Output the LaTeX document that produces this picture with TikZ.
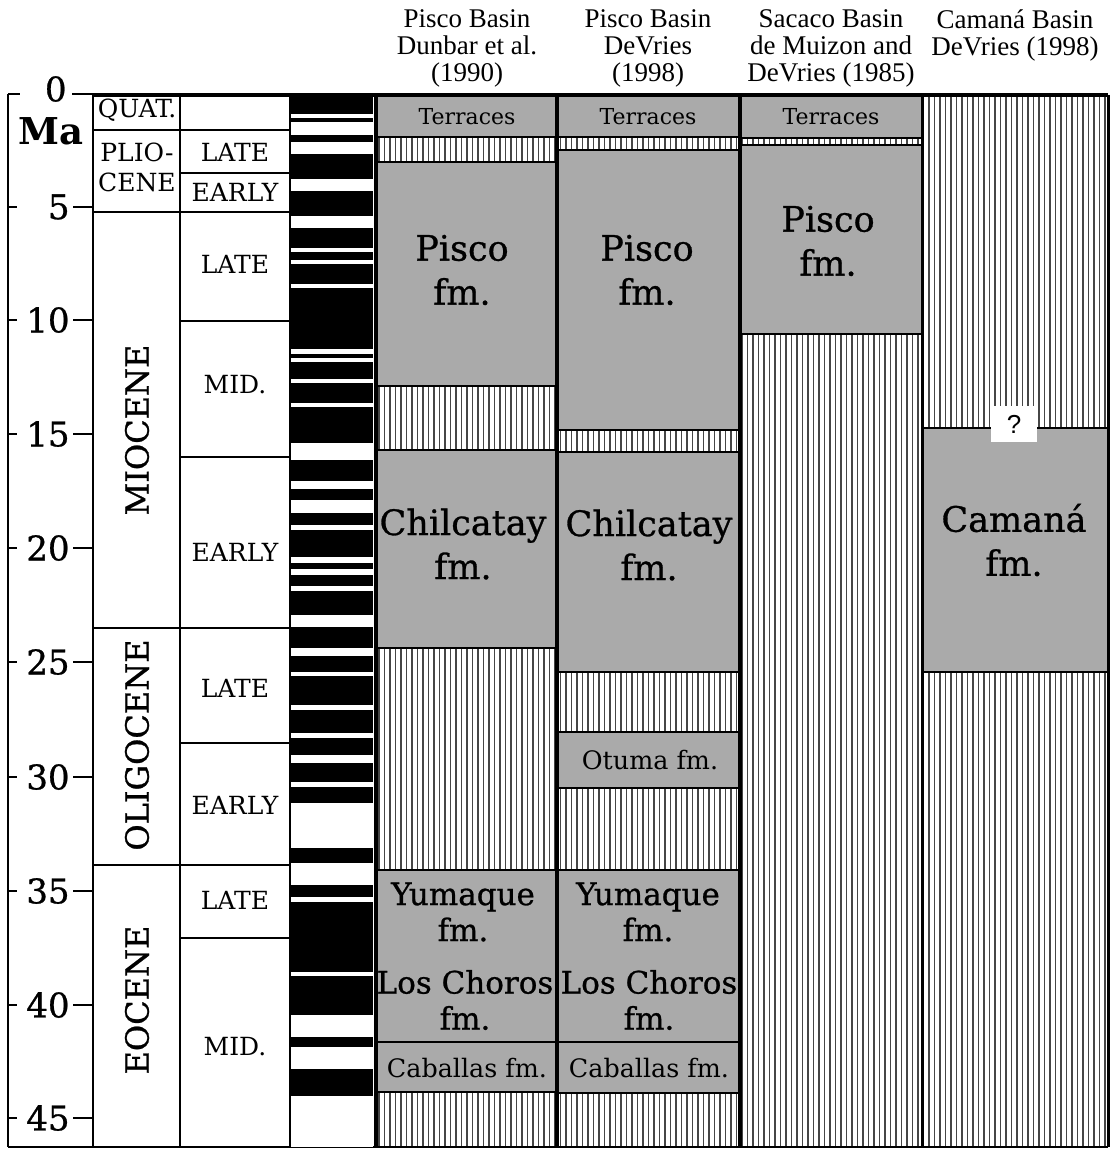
\documentclass[tikz,border=0pt]{standalone}
\usepackage{fontspec}
\setmainfont{Liberation Serif}
\newfontfamily\slab{DejaVu Serif}
\newfontfamily\slabh[FakeBold=0.8]{DejaVu Serif}
\newfontfamily\hdr{Liberation Serif}
\newfontfamily\qsans{Liberation Sans}
\definecolor{fmgray}{RGB}{170,170,170}
\definecolor{hatchc}{RGB}{70,70,70}
\begin{document}
\begin{tikzpicture}[x=0.5pt,y=-0.5pt,
  hdrtext/.style={font=\hdr\fontsize{13.5}{13.5}\selectfont,align=center,inner sep=0pt},
  fmbig/.style={font=\slabh\fontsize{17.5}{22}\selectfont,align=center,inner sep=0pt},
  fmmid/.style={font=\slabh\fontsize{15.5}{18}\selectfont,align=center,inner sep=0pt},
  fmsmall/.style={font=\slab\fontsize{12.7}{14}\selectfont,inner sep=0pt},
  terr/.style={font=\slab\fontsize{11}{12}\selectfont,inner sep=0pt},
  eplabel/.style={font=\slab\fontsize{12.5}{15}\selectfont,align=center,inner sep=0pt},
  eprot/.style={font=\slabh\fontsize{16}{16}\selectfont,rotate=90,inner sep=0pt},
  axnum/.style={font=\slabh\fontsize{17}{17}\selectfont,inner sep=0pt,anchor=east},
  gridl/.style={line width=0.8pt,black},
  fmline/.style={line width=1pt,black},
  hatch/.style={line width=0.6pt,hatchc},
  colsep/.style={line width=2pt,black}
]
\useasboundingbox (0,0) rectangle (1112,1150);
\fill[white] (0,0) rectangle (1112,1150);

% ---------- headers ----------
\node[hdrtext] (h1) at (467,48) {Pisco Basin\\Dunbar et al.\\(1990)};
\node[hdrtext] (h2) at (648,48) {Pisco Basin\\DeVries\\(1998)};
\node[hdrtext] (h3) at (831,48) {Sacaco Basin\\de Muizon and\\DeVries (1985)};
\node[hdrtext] (h4) at (1015,35) {Camaná Basin\\DeVries (1998)};

% ---------- hatching background of formation columns ----------
\begin{scope}
\clip (377,95) rectangle (1108,1147);
\foreach \x in {379,384.5,...,1108} \draw[hatch] (\x,95) -- (\x,1147);
\end{scope}

% ---------- formation blocks ----------
% column 1
\draw[fmline,fill=fmgray] (377,95) rectangle (557,137);
\draw[fmline,fill=fmgray] (377,162) rectangle (557,386);
\draw[fmline,fill=fmgray] (377,450) rectangle (557,648);
\draw[fmline,fill=fmgray] (377,870) rectangle (557,1042);
\draw[fmline,fill=fmgray] (377,1042) rectangle (557,1092);
% column 2
\draw[fmline,fill=fmgray] (557,95) rectangle (740,137);
\draw[fmline,fill=fmgray] (557,150) rectangle (740,430);
\draw[fmline,fill=fmgray] (557,452) rectangle (740,672);
\draw[fmline,fill=fmgray] (557,732) rectangle (740,788);
\draw[fmline,fill=fmgray] (557,870) rectangle (740,1042);
\draw[fmline,fill=fmgray] (557,1042) rectangle (740,1093);
% column 3
\draw[fmline,fill=fmgray] (740,95) rectangle (922,138);
\draw[fmline,fill=fmgray] (740,145) rectangle (922,334);
% column 4
\draw[fmline,fill=fmgray] (922,428) rectangle (1108,672);

% ---------- formation labels ----------
\node[terr] (t1) at (467,117) {Terraces};
\node[terr] (t2) at (648,117) {Terraces};
\node[terr] (t3) at (831,117) {Terraces};
\node[fmbig] (p1) at (462,270) {Pisco\\fm.};
\node[fmbig] (p2) at (647,270) {Pisco\\fm.};
\node[fmbig] (p3) at (828,241) {Pisco\\fm.};
\node[fmbig] (c1) at (463,544) {Chilcatay\\fm.};
\node[fmbig] (c2) at (649,545) {Chilcatay\\fm.};
\node[fmbig] (cam) at (1014,540) {Camaná\\fm.};
\node[fmsmall] (ot) at (650,760) {Otuma fm.};
\node[fmmid] (y1) at (463,912) {Yumaque\\fm.};
\node[fmmid] (y2) at (648,912) {Yumaque\\fm.};
\node[fmmid] (lc1) at (465,1000) {Los Choros\\fm.};
\node[fmmid] (lc2) at (649,1000) {Los Choros\\fm.};
\node[fmsmall] (cb1) at (467,1068) {Caballas fm.};
\node[fmsmall] (cb2) at (649,1068) {Caballas fm.};
\node[fill=white,minimum width=23pt,minimum height=18pt,inner sep=0pt,
      font=\qsans\fontsize{13}{13}\selectfont] (q) at (1014,424) {?};

% ---------- column separators ----------
\draw[colsep] (376,95) -- (376,1147);
\draw[colsep] (557,95) -- (557,1147);
\draw[colsep] (740,95) -- (740,1147);
\draw[line width=1.5pt] (922,95) -- (922,1147);
\draw[line width=1.5pt] (1108,95) -- (1108,1147);
\draw[line width=1.6pt] (93,95) -- (1108,95);
\draw[gridl] (8,1147) -- (1108,1147);

% ---------- polarity column ----------
\fill[white] (291,95) rectangle (373,1147);
\foreach \a/\b in {95/114,118/122,135/142,154/179,191/216,228/248,252/260,264/284,
  288/349,354/358,362/379,383/403,407/443,460/481,489/500,513/525,530/557,563/569,
  575/586,591/615,627/648,656/672,676/705,710/733,738/755,763/782,787/803,848/863,
  885/897,902/972,976/1015,1037/1047,1069/1096}
  \fill[black] (291,\a) rectangle (373,\b);
\draw[gridl] (290,95) -- (290,1147);

% ---------- time scale grid ----------
\draw[gridl] (93,95) -- (93,1147);
\draw[gridl] (180,95) -- (180,1147);
\foreach \y in {130,212,628,865} \draw[gridl] (93,\y) -- (290,\y);
\foreach \y in {173,321,457,743,938} \draw[gridl] (180,\y) -- (290,\y);

% epochs
\node[eplabel] (quat) at (137,110) {QUAT.};
\node[eplabel] (plio) at (137,167) {PLIO-\\CENE};
\node[eprot] (mio) at (137,430) {MIOCENE};
\node[eprot] (oli) at (137,745) {OLIGOCENE};
\node[eprot] (eoc) at (137,1000) {EOCENE};
% sub-epochs
\node[eplabel] (s1) at (235,152) {LATE};
\node[eplabel] (s2) at (235,192) {EARLY};
\node[eplabel] (s3) at (235,264) {LATE};
\node[eplabel] (s4) at (235,385) {MID.};
\node[eplabel] (s5) at (235,552) {EARLY};
\node[eplabel] (s6) at (235,688) {LATE};
\node[eplabel] (s7) at (235,805) {EARLY};
\node[eplabel] (s8) at (235,900) {LATE};
\node[eplabel] (s9) at (235,1047) {MID.};

% ---------- age axis ----------
\draw[gridl] (8,94) -- (8,1147);
\draw[gridl] (8,94) -- (20,94);
\draw[gridl] (72,94) -- (93,94);
\node[axnum] (a0) at (67,89) {0};
\node[font=\slab\bfseries\fontsize{18.5}{18.5}\selectfont,inner sep=0pt] (ma) at (51,131) {Ma};
\foreach \v/\y in {5/207,10/320,15/434,20/548,25/662,30/777,35/891,40/1005,45/1118} {
  \draw[gridl] (8,\y) -- (17,\y);
  \draw[gridl] (73,\y) -- (93,\y);
  \node[axnum] (a\v) at (70,\y) {\v};
}
\end{tikzpicture}
\end{document}
